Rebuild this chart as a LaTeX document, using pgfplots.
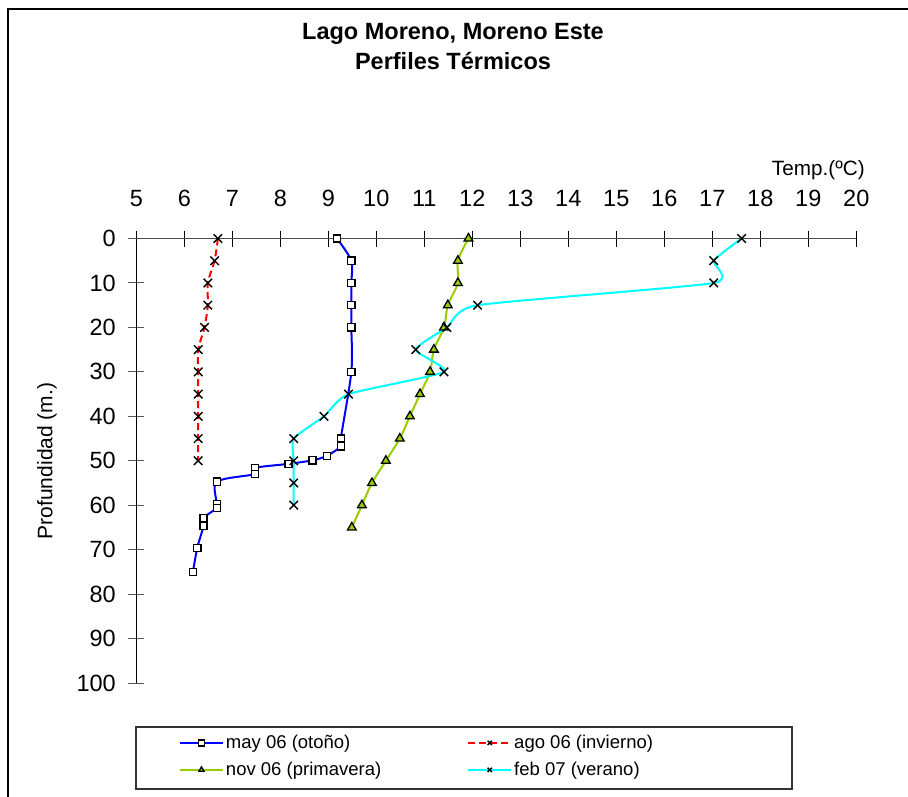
\documentclass[border=0pt]{standalone}
\usepackage{fontspec}
\setmainfont{Liberation Sans}
\usepackage{pgfplots}
\pgfplotsset{compat=1.18}
\definecolor{ygreen}{HTML}{99CC00}
\definecolor{pblue}{HTML}{0000FF}
\definecolor{pred}{HTML}{FF0000}
\definecolor{pcyan}{HTML}{00FFFF}

\pgfplotstableread{
t d
9.18 0
9.48 5
9.48 10
9.48 15
9.48 20
9.48 30
9.26 45
9.26 46.75
8.97 48.9
8.67 49.9
8.17 50.7
7.47 51.6
7.47 53.0
6.68 54.7
6.68 59.7
6.68 60.6
6.40 62.9
6.40 64.7
6.27 69.6
6.18 75
}\maysix

\pgfplotstableread{
t d
6.70 0
6.63 5
6.49 10
6.49 15
6.42 20
6.29 25
6.29 30
6.29 35
6.29 40
6.29 45
6.29 50
}\agosix

\pgfplotstableread{
t d
11.92 0
11.70 5
11.70 10
11.49 15
11.41 20
11.20 25
11.12 30
10.91 35
10.70 40
10.49 45
10.20 50
9.91 55
9.70 60
9.49 65
}\novsix

\pgfplotstableread{
t d
17.61 0
17.03 5
17.03 10
12.11 15
11.47 20
10.82 25
11.41 30
9.42 35
8.91 40
8.28 45
8.28 50
8.28 55
8.28 60
}\febsiete

\begin{document}
\begin{tikzpicture}
\useasboundingbox (0pt,0pt) rectangle (908pt,796pt);
\draw[line width=1.5pt] (8pt,-5pt) -- (8pt,787pt) -- (915pt,787pt);
\node[font=\bfseries\fontsize{23.5}{28}\selectfont, anchor=base, inner sep=0pt] at (453pt,756.7pt) {Lago Moreno, Moreno Este};
\node[font=\bfseries\fontsize{23.5}{28}\selectfont, anchor=base, inner sep=0pt] at (453pt,726.7pt) {Perfiles Térmicos};
\node[font=\fontsize{20.7}{24}\selectfont, anchor=base, inner sep=0pt] at (818.3pt,620.5pt) {Temp.(ºC)};
\node[font=\fontsize{21}{24}\selectfont, rotate=90, inner sep=0pt] at (47pt,335pt) {Profundidad (m.)};
\draw[line width=1.2pt, black!80] (136pt,7pt) rectangle (792pt,69pt);
\begin{axis}[
  at={(136.3pt,113pt)}, anchor=south west,
  scale only axis, width=720pt, height=444.5pt,
  xmin=5, xmax=20, ymin=0, ymax=100, y dir=reverse,
  axis x line=top, axis y line=left,
  x axis line style={-, black!70, line width=1.3pt},
  y axis line style={-, black, line width=1pt},
  xtick={5,6,...,20}, ytick={0,10,...,100},
  tick align=center, major tick length=16pt,
  x tick style={black, line width=1pt},
  y tick style={black!65, line width=1pt},
  minor tick num=0,
  /pgf/number format/assume math mode=true,
  ticklabel style={font=\fontsize{23.5}{27}\selectfont},
  xticklabel style={anchor=base, inner sep=0pt, yshift=24.5pt},
  yticklabel style={anchor=east, inner sep=0pt, xshift=-12.3pt},
  legend columns=2,
  legend cell align=left,
  legend style={at={(axis description cs:0.059,-0.113)}, anchor=north west,
    draw=none, fill=none, inner sep=0pt, row sep=8pt,
    font=\fontsize{18.5}{22}\selectfont,
    /tikz/every even column/.append style={column sep=84pt}},
  legend image code/.code={\draw[mark repeat=2,mark phase=2, mark size=3pt] plot coordinates {(0pt,0pt) (21.5pt,0pt) (43pt,0pt)};},
]
\addplot[color=pblue, line width=2pt, smooth, tension=0.5, mark=square*, mark size=3.6pt,
  mark options={solid, fill=white, draw=black, line width=1.3pt}] table[x=t,y=d] {\maysix};
\addlegendentry{may 06 (otoño)}
\addplot[color=pred, line width=2pt, dash pattern=on 7pt off 4pt, smooth, tension=0.5, mark=x, mark size=6pt,
  mark options={solid, draw=black, line width=1.4pt}] table[x=t,y=d] {\agosix};
\addlegendentry{ago 06 (invierno)}
\addplot[color=ygreen, line width=2pt, smooth, tension=0.5, mark=triangle*, mark size=5pt,
  mark options={solid, fill=ygreen, draw=black, line width=1.3pt}] table[x=t,y=d] {\novsix};
\addlegendentry{nov 06 (primavera)}
\addplot[color=pcyan, line width=2pt, smooth, tension=0.32, mark=x, mark size=6pt,
  mark options={solid, draw=black, line width=1.4pt}] table[x=t,y=d] {\febsiete};
\addlegendentry{feb 07 (verano)}
\end{axis}
\end{tikzpicture}
\end{document}
